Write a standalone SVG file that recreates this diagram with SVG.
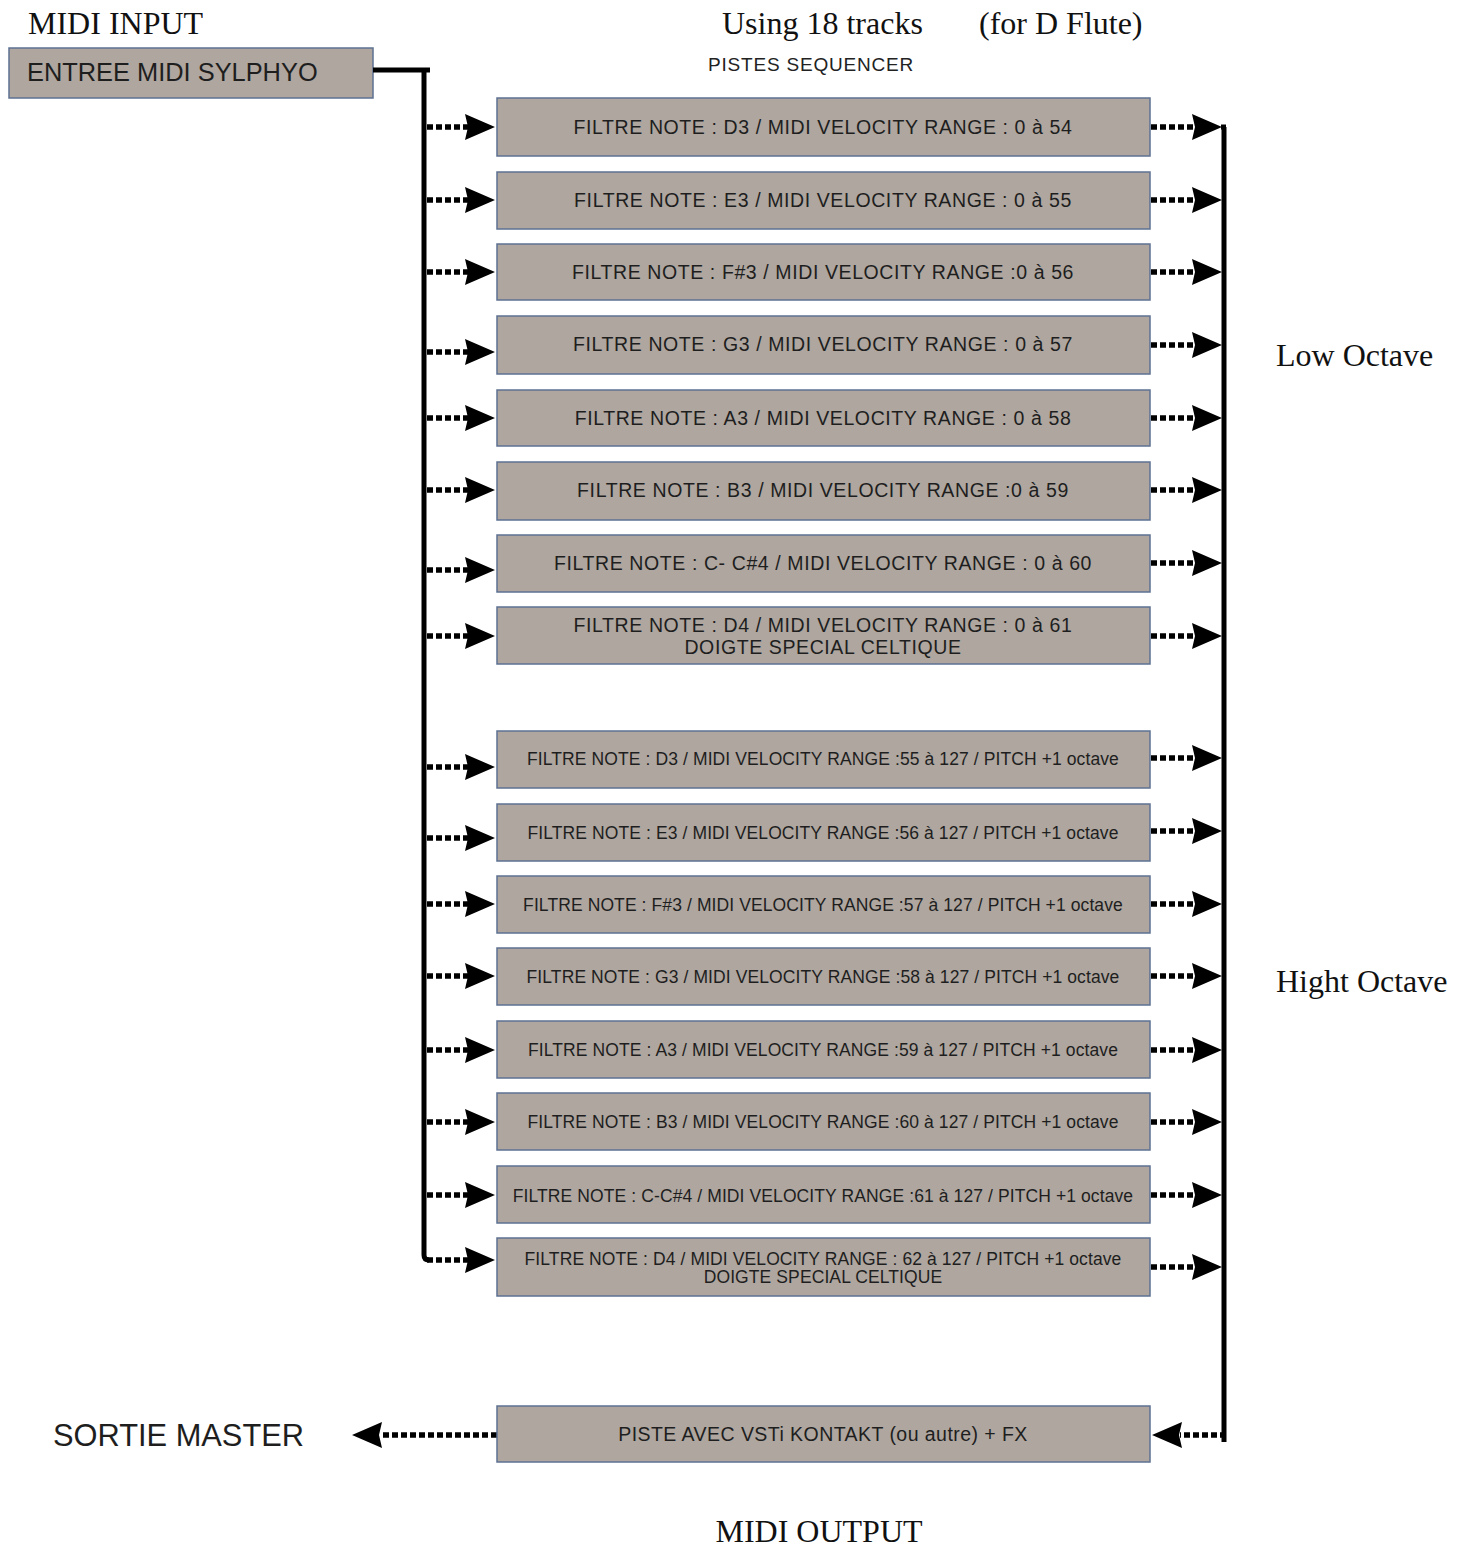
<svg xmlns="http://www.w3.org/2000/svg" xmlns:xlink="http://www.w3.org/1999/xlink" width="1464" height="1546" viewBox="0 0 1464 1546">
<style>
.box{fill:#aea69f;stroke:#5d7192;stroke-width:1.5}
.t{font-family:"Liberation Sans",Arial,sans-serif;font-size:19.5px;fill:#1e1e1e;text-anchor:middle;letter-spacing:0.6px}
.th{font-family:"Liberation Sans",Arial,sans-serif;font-size:17.5px;fill:#1e1e1e;text-anchor:middle;letter-spacing:0.1px}
.serif{font-family:"Liberation Serif","Times New Roman",serif;font-size:32px;fill:#111}
.bus{fill:none;stroke:#000;stroke-width:5}
.dash{fill:none;stroke:#000;stroke-width:5.5;stroke-dasharray:6,3}
</style>
<defs>
<path id="ar" d="M0,0 L-30,-13 L-27,0 L-30,13 Z" fill="#000"/>
</defs>
<text class="serif" x="28" y="34">MIDI INPUT</text>
<text class="serif" x="722" y="34">Using 18 tracks</text>
<text class="serif" x="979" y="34">(for D Flute)</text>
<text x="811" y="71" font-family="'Liberation Sans',Arial,sans-serif" font-size="19" letter-spacing="0.8" fill="#222" text-anchor="middle">PISTES SEQUENCER</text>
<text class="serif" x="1276" y="366">Low Octave</text>
<text class="serif" x="1276" y="992">Hight Octave</text>
<text class="serif" x="819" y="1542" text-anchor="middle">MIDI OUTPUT</text>
<g id="input"><rect class="box" x="9" y="48" width="364" height="50"/><text x="27" y="81" font-family="'Liberation Sans',Arial,sans-serif" font-size="25.4" fill="#1e1e1e">ENTREE MIDI SYLPHYO</text></g>
<g id="master"><text x="53" y="1446" font-family="'Liberation Sans',Arial,sans-serif" font-size="30.8" fill="#1e1e1e">SORTIE MASTER</text></g>
<g id="connectors">
<path class="bus" d="M373,70 H430 M424,70 V1255 Q424,1260 429,1260"/>
<path class="bus" d="M1224,127 V1442"/>
<path class="bus" d="M1221,127 H1226"/>
<path class="dash" d="M1226,1435 H1180"/>
<use xlink:href="#ar" href="#ar" transform="translate(1152,1435) rotate(180)"/>
<path class="dash" d="M497,1435 H380"/>
<use xlink:href="#ar" href="#ar" transform="translate(352,1435) rotate(180)"/>
<g>
<path class="dash" d="M427,127 H468 M427,200 H468 M427,272 H468 M427,352 H468 M427,418 H468 M427,490 H468 M427,570 H468 M427,636 H468 M427,767 H468 M427,838 H468 M427,904 H468 M427,976 H468 M427,1050 H468 M427,1122 H468 M427,1195 H468 M427,1260 H468"/>
<use href="#ar" transform="translate(495,127)"/>
<use href="#ar" transform="translate(495,200)"/>
<use href="#ar" transform="translate(495,272)"/>
<use href="#ar" transform="translate(495,352)"/>
<use href="#ar" transform="translate(495,418)"/>
<use href="#ar" transform="translate(495,490)"/>
<use href="#ar" transform="translate(495,570)"/>
<use href="#ar" transform="translate(495,636)"/>
<use href="#ar" transform="translate(495,767)"/>
<use href="#ar" transform="translate(495,838)"/>
<use href="#ar" transform="translate(495,904)"/>
<use href="#ar" transform="translate(495,976)"/>
<use href="#ar" transform="translate(495,1050)"/>
<use href="#ar" transform="translate(495,1122)"/>
<use href="#ar" transform="translate(495,1195)"/>
<use href="#ar" transform="translate(495,1260)"/>
</g>
<g>
<path class="dash" d="M1151,127 H1195 M1151,200 H1195 M1151,272 H1195 M1151,345 H1195 M1151,418 H1195 M1151,490 H1195 M1151,563 H1195 M1151,636 H1195 M1151,758 H1195 M1151,831 H1195 M1151,904 H1195 M1151,976 H1195 M1151,1050 H1195 M1151,1122 H1195 M1151,1195 H1195 M1151,1267 H1195"/>
<use href="#ar" transform="translate(1222,127)"/>
<use href="#ar" transform="translate(1222,200)"/>
<use href="#ar" transform="translate(1222,272)"/>
<use href="#ar" transform="translate(1222,345)"/>
<use href="#ar" transform="translate(1222,418)"/>
<use href="#ar" transform="translate(1222,490)"/>
<use href="#ar" transform="translate(1222,563)"/>
<use href="#ar" transform="translate(1222,636)"/>
<use href="#ar" transform="translate(1222,758)"/>
<use href="#ar" transform="translate(1222,831)"/>
<use href="#ar" transform="translate(1222,904)"/>
<use href="#ar" transform="translate(1222,976)"/>
<use href="#ar" transform="translate(1222,1050)"/>
<use href="#ar" transform="translate(1222,1122)"/>
<use href="#ar" transform="translate(1222,1195)"/>
<use href="#ar" transform="translate(1222,1267)"/>
</g>
</g>
<g id="n1"><rect class="box" x="497" y="98" width="653" height="58"/><text class="t" x="823" y="134">FILTRE NOTE : D3 / MIDI VELOCITY RANGE : 0 à 54</text></g>
<g id="n2"><rect class="box" x="497" y="172" width="653" height="57"/><text class="t" x="823" y="207">FILTRE NOTE : E3 / MIDI VELOCITY RANGE : 0 à 55</text></g>
<g id="n3"><rect class="box" x="497" y="244" width="653" height="56"/><text class="t" x="823" y="279">FILTRE NOTE : F#3 / MIDI VELOCITY RANGE :0 à 56</text></g>
<g id="n4"><rect class="box" x="497" y="316" width="653" height="58"/><text class="t" x="823" y="351">FILTRE NOTE : G3 / MIDI VELOCITY RANGE : 0 à 57</text></g>
<g id="n5"><rect class="box" x="497" y="390" width="653" height="56"/><text class="t" x="823" y="425">FILTRE NOTE : A3 / MIDI VELOCITY RANGE : 0 à 58</text></g>
<g id="n6"><rect class="box" x="497" y="462" width="653" height="58"/><text class="t" x="823" y="497">FILTRE NOTE : B3 / MIDI VELOCITY RANGE :0 à 59</text></g>
<g id="n7"><rect class="box" x="497" y="535" width="653" height="57"/><text class="t" x="823" y="570">FILTRE NOTE : C- C#4 / MIDI VELOCITY RANGE : 0 à 60</text></g>
<g id="n8"><rect class="box" x="497" y="607" width="653" height="57"/><text class="t" x="823" y="632">FILTRE NOTE : D4 / MIDI VELOCITY RANGE : 0 à 61</text><text class="t" x="823" y="654">DOIGTE SPECIAL CELTIQUE</text></g>
<g id="n9"><rect class="box" x="497" y="731" width="653" height="57"/><text class="th" x="823" y="765">FILTRE NOTE : D3 / MIDI VELOCITY RANGE :55 à 127 / PITCH +1 octave</text></g>
<g id="n10"><rect class="box" x="497" y="804" width="653" height="57"/><text class="th" x="823" y="839">FILTRE NOTE : E3 / MIDI VELOCITY RANGE :56 à 127 / PITCH +1 octave</text></g>
<g id="n11"><rect class="box" x="497" y="876" width="653" height="57"/><text class="th" x="823" y="911">FILTRE NOTE : F#3 / MIDI VELOCITY RANGE :57 à 127 / PITCH +1 octave</text></g>
<g id="n12"><rect class="box" x="497" y="948" width="653" height="57"/><text class="th" x="823" y="983">FILTRE NOTE : G3 / MIDI VELOCITY RANGE :58 à 127 / PITCH +1 octave</text></g>
<g id="n13"><rect class="box" x="497" y="1021" width="653" height="57"/><text class="th" x="823" y="1056">FILTRE NOTE : A3 / MIDI VELOCITY RANGE :59 à 127 / PITCH +1 octave</text></g>
<g id="n14"><rect class="box" x="497" y="1093" width="653" height="57"/><text class="th" x="823" y="1128">FILTRE NOTE : B3 / MIDI VELOCITY RANGE :60 à 127 / PITCH +1 octave</text></g>
<g id="n15"><rect class="box" x="497" y="1166" width="653" height="57"/><text class="th" x="823" y="1202">FILTRE NOTE : C-C#4 / MIDI VELOCITY RANGE :61 à 127 / PITCH +1 octave</text></g>
<g id="n16"><rect class="box" x="497" y="1238" width="653" height="58"/><text class="th" x="823" y="1265">FILTRE NOTE : D4 / MIDI VELOCITY RANGE : 62 à 127 / PITCH +1 octave</text><text class="th" x="823" y="1283">DOIGTE SPECIAL CELTIQUE</text></g>
<g id="out"><rect class="box" x="497" y="1406" width="653" height="56"/><text class="t" x="823" y="1441" style="letter-spacing:0.45px">PISTE AVEC VSTi KONTAKT (ou autre) + FX</text></g>
</svg>
